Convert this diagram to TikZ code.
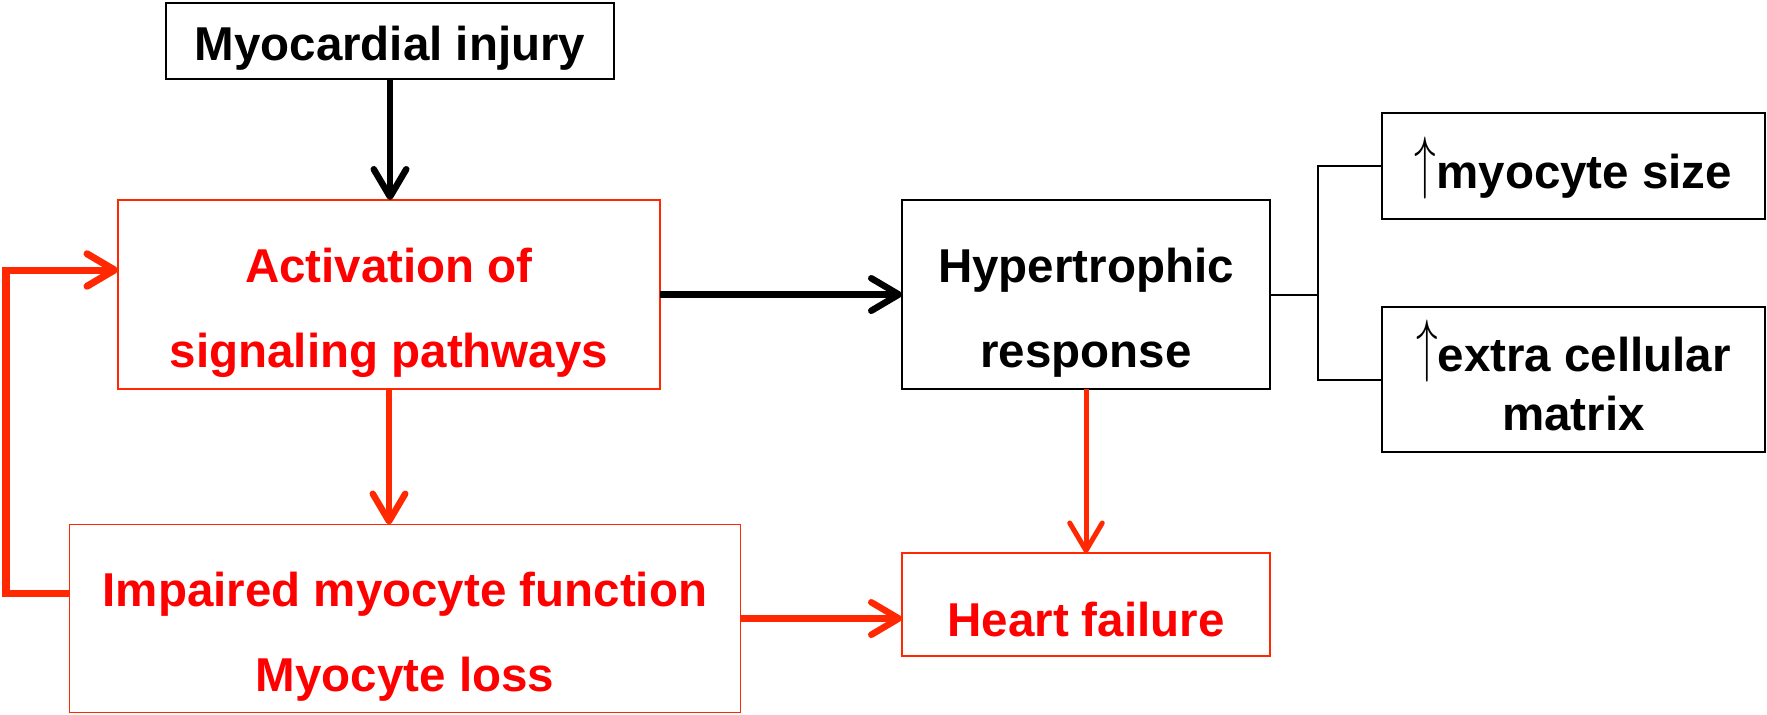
\documentclass[tikz,border=0pt]{standalone}
\usepackage{fontspec}
\setmainfont{Liberation Sans}
\usetikzlibrary{arrows.meta,calc}
\definecolor{lred}{RGB}{255,40,0}
\definecolor{tred}{RGB}{255,0,0}
\newcommand{\uparr}{\raisebox{1.2pt}[17.1pt][4.8pt]{\scalebox{1}[1.62]{$\uparrow$}}}
\begin{document}
\begin{tikzpicture}[x=0.4pt,y=-0.4pt,
  every node/.style={inner sep=0pt, outer sep=0pt},
  blackbox/.style={draw=black, line width=0.9pt, rectangle},
  redbox/.style={draw=lred, line width=0.7pt, rectangle},
  btxt/.style={font=\fontsize{19}{34}\selectfont\bfseries, align=center, text=black},
  rtxt/.style={btxt, text=tred},
  arr/.style={line width=2.6pt, -{Straight Barb[length=11pt,width=13pt,line cap=round,line join=round]}},
  thinline/.style={line width=0.8pt}
]
\useasboundingbox (0,0) rectangle (1767,714);

% boxes
\node[blackbox, minimum width=179.2pt, minimum height=30.4pt] (inj) at (390,41) {};
\node[redbox, minimum width=216.8pt, minimum height=75.6pt] (act) at (389,294.5) {};
\node[redbox, minimum width=268.4pt, minimum height=75.2pt] (imp) at (405,618.5) {};
\node[blackbox, minimum width=147.2pt, minimum height=75.6pt] (hyp) at (1086,294.5) {};
\node[redbox, minimum width=147.2pt, minimum height=41.2pt] (hf) at (1086,604.5) {};
\node[blackbox, minimum width=153.2pt, minimum height=42.4pt] (mys) at (1573.5,166) {};
\node[blackbox, minimum width=153.2pt, minimum height=58pt] (ecm) at (1573.5,379.5) {};

% texts
\node[btxt, yshift=-3pt] (injT) at (inj) {Myocardial injury};
\node[rtxt, yshift=-7.4pt] (actT) at (act) {Activation of\\signaling pathways};
\node[rtxt, yshift=-7.2pt] (impT) at (imp) {Impaired myocyte function\\Myocyte loss};
\node[btxt, yshift=-7.4pt] (hypT) at (hyp) {Hypertrophic\\response};
\node[rtxt, yshift=-6pt] (hfT) at (hf) {Heart failure};
\node[btxt, yshift=-3pt] (mysT) at (mys) {\uparr myocyte size};
\node[btxt, font=\fontsize{19}{23.6}\selectfont\bfseries] (ecmT) at (ecm) {\uparr extra cellular\\matrix};

% connectors
\draw[arr] (inj.south) -- (inj.south |- act.north);
\draw[arr, draw=lred] (act.south) -- (act.south |- imp.north);
\draw[arr] (act.east) -- (hyp.west);
\draw[arr, draw=lred, line width=2pt] (hyp.south) -- (hf.north);
\draw[arr, draw=lred] (imp.east) -- (imp.east -| hf.west);

\coordinate (lpb) at (6,593);
\coordinate (lpt) at (6,270);
\draw[arr, draw=lred, line width=2.8pt] (imp.west |- lpb) -- (lpb) -- (lpt) -- (act.west |- lpt);

\coordinate (bx) at (1318,295);
\draw[thinline] (hyp.east) -- (hyp.east -| bx);
\draw[thinline] (mys.west) -- (mys.west -| bx) -- (ecm.west -| bx) -- (ecm.west);
\end{tikzpicture}
\end{document}
